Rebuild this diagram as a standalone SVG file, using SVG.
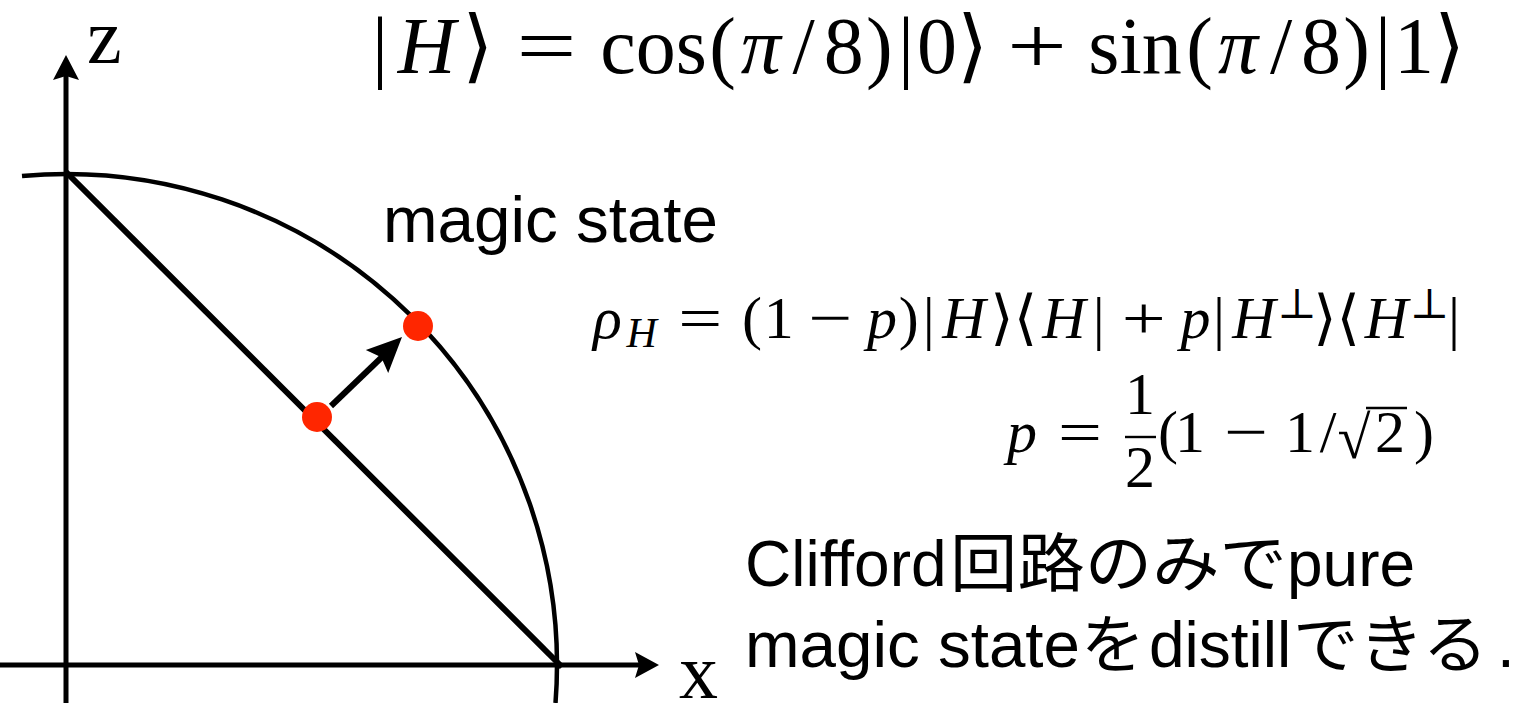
<svg xmlns="http://www.w3.org/2000/svg" width="1532" height="703" viewBox="0 0 1532 703">
<style>
.ln{stroke:#000;fill:none;stroke-linecap:butt}
.ax{stroke-width:5}
.circ{stroke-width:4.5}
.diag{stroke-width:6}
.hd{fill:#000;stroke:none}
.dot{fill:#ff2600}
.m{font-family:"Liberation Serif","DejaVu Serif",serif;fill:#000}
.i{font-style:italic}
.br{font-family:"DejaVu Serif","DejaVu Sans",serif;font-weight:normal}
.s{font-family:"Liberation Sans","Noto Sans CJK JP",sans-serif;fill:#000}
</style>
<rect width="1532" height="703" fill="#fff"/>

<g id="sphere">
<path class="ln circ" d="M 22,176 A 491 491 0 0 1 555.5,703"/>
<line class="ln diag" x1="66" y1="172" x2="562" y2="667"/>
</g>

<g id="connectors">
<line class="ln ax" x1="66" y1="703" x2="66" y2="74"/>
<polygon class="hd" points="66,55 53,80 66,76 79,80"/>
<line class="ln ax" x1="0" y1="665" x2="640" y2="665"/>
<polygon class="hd" points="659,665 635,652 639,665 635,678"/>
<line class="ln" stroke-width="6" x1="331" y1="406" x2="382" y2="357"/>
<polygon class="hd" points="402,337 365.8,349.9 381.3,357.2 388.2,372.9"/>
</g>

<g id="dot-mixed"><circle class="dot" cx="317" cy="417" r="15"/></g>
<g id="dot-pure"><circle class="dot" cx="418" cy="326" r="15"/></g>

<g id="axis-labels">
<text class="m" x="87" y="63" font-size="78">z</text>
<text class="m" x="679" y="698" font-size="78">x</text>
</g>

<g id="formula-H" class="m" font-size="80" text-anchor="middle">
<text x="380" y="73">|</text>
<text x="426.7" y="73" class="i">H</text>
<text x="477.8" y="73" class="br">⟩</text>
<text x="546.6" y="73" textLength="60" lengthAdjust="spacingAndGlyphs">=</text>
<text x="653.5" y="73">cos</text>
<text x="722.5" y="73">(</text>
<text x="760.8" y="73" class="i">π</text>
<text x="803.7" y="73">/</text>
<text x="843.7" y="73">8</text>
<text x="879.3" y="73">)</text>
<text x="906" y="73">|</text>
<text x="937" y="73">0</text>
<text x="972.5" y="73" class="br">⟩</text>
<text x="1037" y="73" textLength="60" lengthAdjust="spacingAndGlyphs">+</text>
<text x="1135" y="73">sin</text>
<text x="1199.5" y="73">(</text>
<text x="1238" y="73" class="i">π</text>
<text x="1281" y="73">/</text>
<text x="1321" y="73">8</text>
<text x="1356.5" y="73">)</text>
<text x="1383" y="73">|</text>
<text x="1414" y="73">1</text>
<text x="1449.5" y="73" class="br">⟩</text>
</g>

<g id="magic-state-label">
<text class="s" x="383" y="242" font-size="65" textLength="335" lengthAdjust="spacingAndGlyphs">magic state</text>
</g>

<g id="formula-rho" class="m" font-size="60" text-anchor="middle">
<text x="607.5" y="338" class="i">ρ</text>
<text x="641.7" y="347" class="i" font-size="42">H</text>
<text x="700.3" y="338" textLength="44" lengthAdjust="spacingAndGlyphs">=</text>
<text x="752" y="338">(</text>
<text x="778.7" y="338">1</text>
<text x="830.3" y="338" textLength="44" lengthAdjust="spacingAndGlyphs">−</text>
<text x="882" y="338" class="i">p</text>
<text x="908.8" y="338">)</text>
<text x="928.8" y="338">|</text>
<text x="963.8" y="338" class="i">H</text>
<text x="1002" y="338" class="br">⟩</text>
<text x="1025.5" y="338" class="br">⟨</text>
<text x="1063.8" y="338" class="i">H</text>
<text x="1098.7" y="338">|</text>
<text x="1143.7" y="338" textLength="44" lengthAdjust="spacingAndGlyphs">+</text>
<text x="1195.5" y="338" class="i">p</text>
<text x="1219" y="338">|</text>
<text x="1254" y="338" class="i">H</text>
<text x="1297" y="318" font-size="42">⊥</text>
<text x="1325" y="338" class="br">⟩</text>
<text x="1348.2" y="338" class="br">⟨</text>
<text x="1386.5" y="338" class="i">H</text>
<text x="1429.5" y="318" font-size="42">⊥</text>
<text x="1454" y="338">|</text>
</g>

<g id="formula-p" class="m" font-size="60" text-anchor="middle">
<text x="1022" y="452" class="i">p</text>
<text x="1080" y="452" textLength="44" lengthAdjust="spacingAndGlyphs">=</text>
<text x="1140" y="414">1</text>
<line x1="1125" y1="437" x2="1156" y2="437" stroke="#000" stroke-width="2.4"/>
<text x="1140" y="487">2</text>
<text x="1168" y="452">(</text>
<text x="1190" y="452">1</text>
<text x="1246" y="452" textLength="44" lengthAdjust="spacingAndGlyphs">−</text>
<text x="1300" y="452">1</text>
<text x="1328" y="452">/</text>
<text x="1354" y="458">√</text>
<line x1="1366" y1="408" x2="1407" y2="408" stroke="#000" stroke-width="2.4"/>
<text x="1390" y="452">2</text>
<text x="1424" y="452">)</text>
</g>

<g id="conclusion" class="s" font-size="64">
<text y="586"><tspan x="745">Clifford</tspan><tspan x="950" textLength="337" lengthAdjust="spacingAndGlyphs">回路のみで</tspan><tspan x="1287">pure</tspan></text>
<text y="667"><tspan x="745" textLength="335" lengthAdjust="spacingAndGlyphs">magic state</tspan><tspan x="1081">を</tspan><tspan x="1149">distill</tspan><tspan x="1293" textLength="195" lengthAdjust="spacingAndGlyphs">できる</tspan><tspan x="1497">.</tspan></text>
</g>
</svg>
